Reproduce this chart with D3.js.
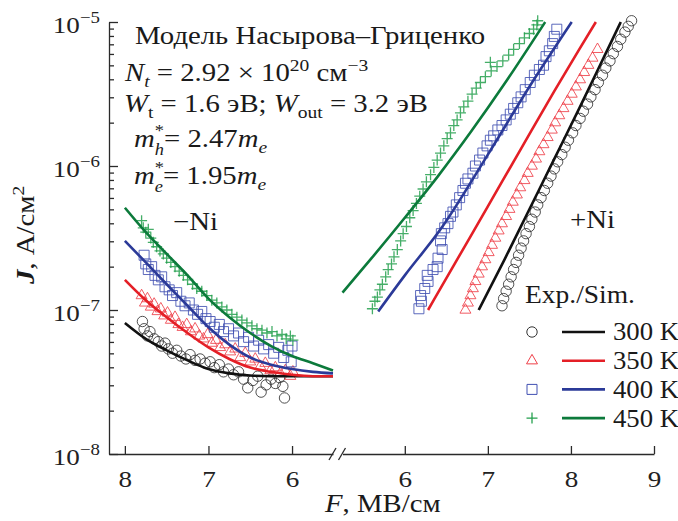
<!DOCTYPE html>
<html>
<head>
<meta charset="utf-8">
<script src="https://cdn.jsdelivr.net/npm/d3@7"></script>
<style>
body { margin: 0; background: #fff; }
svg text { font-family: "Liberation Serif", "Tinos", "DejaVu Serif", "Noto Serif", serif; }
</style>
</head>
<body>
<div id="chart"></div>
<script>
// ---- data: [F (MV/cm), J (A/cm^2)] ----
var tempLabels = ["300 K", "350 K", "400 K", "450 K"];
var yTickExps = [-8, -7, -6, -5];
var xTicksLeft = [8, 7, 6];
var xTicksRight = [6, 7, 8, 9];

// simulation, -Ni (left, reversed field axis)
var simLeft300 = [[8.0, 8.13e-8], [7.75, 6.31e-8], [7.5, 5.25e-8], [7.25, 4.47e-8], [7.0, 3.89e-8], [6.75, 3.63e-8], [6.5, 3.51e-8], [6.25, 3.47e-8], [6.0, 3.47e-8], [5.75, 3.47e-8], [5.51, 3.47e-8]];
var simLeft350 = [[8.0, 1.62e-7], [7.75, 1.17e-7], [7.5, 8.91e-8], [7.25, 6.92e-8], [7.0, 5.50e-8], [6.75, 4.57e-8], [6.5, 3.98e-8], [6.25, 3.72e-8], [6.0, 3.55e-8], [5.75, 3.47e-8], [5.51, 3.47e-8]];
var simLeft400 = [[8.0, 3.02e-7], [7.75, 2.14e-7], [7.5, 1.51e-7], [7.25, 1.07e-7], [7.0, 7.59e-8], [6.75, 5.75e-8], [6.5, 4.68e-8], [6.25, 4.17e-8], [6.0, 3.89e-8], [5.75, 3.72e-8], [5.51, 3.63e-8]];
var simLeft450 = [[8.0, 5.13e-7], [7.75, 3.47e-7], [7.5, 2.45e-7], [7.25, 1.74e-7], [7.0, 1.20e-7], [6.75, 8.91e-8], [6.5, 6.92e-8], [6.25, 5.62e-8], [6.0, 4.79e-8], [5.75, 4.27e-8], [5.51, 3.80e-8]];

// simulation, +Ni (right)
var simRight300 = [[6.89, 1.0e-7], [7.2, 2.24e-7], [7.5, 5.01e-7], [7.8, 1.12e-6], [8.1, 2.51e-6], [8.4, 5.75e-6], [8.60, 1.0e-5]];
var simRight350 = [[6.28, 1.0e-7], [6.6, 2.09e-7], [7.0, 5.25e-7], [7.4, 1.32e-6], [7.8, 3.31e-6], [8.1, 6.46e-6], [8.30, 1.0e-5]];
var simRight400 = [[5.68, 9.77e-8], [6.0, 1.74e-7], [6.43, 3.63e-7], [7.0, 1.20e-6], [7.5, 3.55e-6], [8.01, 1.0e-5]];
var simRight450 = [[5.25, 1.32e-7], [5.6, 2.29e-7], [6.0, 4.37e-7], [6.4, 8.51e-7], [6.8, 1.74e-6], [7.2, 3.72e-6], [7.69, 1.0e-5]];

// experiment, -Ni
var expLeft300 = [[7.79, 8.32e-8], [7.77, 7.41e-8], [7.73, 6.61e-8], [7.70, 7.08e-8], [7.65, 6.31e-8], [7.60, 6.03e-8], [7.56, 5.62e-8], [7.52, 5.89e-8], [7.48, 5.37e-8], [7.43, 5.01e-8], [7.38, 5.25e-8], [7.33, 4.79e-8], [7.27, 4.57e-8], [7.22, 4.90e-8], [7.16, 4.47e-8], [7.10, 4.57e-8], [7.04, 4.27e-8], [6.98, 4.37e-8], [6.93, 3.98e-8], [6.87, 4.17e-8], [6.82, 3.72e-8], [6.76, 3.89e-8], [6.70, 3.55e-8], [6.64, 3.72e-8], [6.58, 3.31e-8], [6.53, 2.88e-8], [6.47, 3.24e-8], [6.41, 3.47e-8], [6.37, 2.69e-8], [6.31, 3.02e-8], [6.25, 3.31e-8], [6.20, 3.09e-8], [6.15, 3.39e-8], [6.11, 2.95e-8], [6.09, 2.45e-8]];
var expLeft350 = [[7.80, 1.26e-7], [7.76, 1.12e-7], [7.73, 1.20e-7], [7.69, 1.05e-7], [7.65, 1.10e-7], [7.61, 9.77e-8], [7.57, 1.02e-7], [7.53, 9.12e-8], [7.49, 9.55e-8], [7.45, 8.51e-8], [7.40, 8.91e-8], [7.36, 7.94e-8], [7.31, 7.59e-8], [7.26, 7.94e-8], [7.21, 7.08e-8], [7.16, 7.41e-8], [7.11, 6.61e-8], [7.06, 6.31e-8], [7.01, 6.76e-8], [6.96, 5.89e-8], [6.91, 6.17e-8], [6.86, 5.50e-8], [6.80, 5.75e-8], [6.74, 5.13e-8], [6.68, 5.37e-8], [6.62, 4.68e-8], [6.56, 5.01e-8], [6.50, 4.37e-8], [6.44, 4.57e-8], [6.38, 4.07e-8], [6.32, 4.27e-8], [6.26, 3.80e-8], [6.20, 3.98e-8], [6.14, 3.63e-8], [6.08, 3.80e-8], [6.02, 3.47e-8], [5.99, 3.72e-8]];
var expLeft400 = [[7.77, 2.40e-7], [7.75, 2.09e-7], [7.72, 1.91e-7], [7.68, 2.00e-7], [7.64, 1.74e-7], [7.60, 1.62e-7], [7.56, 1.70e-7], [7.52, 1.45e-7], [7.47, 1.38e-7], [7.43, 1.26e-7], [7.38, 1.32e-7], [7.33, 1.15e-7], [7.28, 1.07e-7], [7.23, 1.12e-7], [7.18, 1.00e-7], [7.13, 9.33e-8], [7.08, 9.77e-8], [7.03, 8.71e-8], [6.98, 8.32e-8], [6.93, 7.59e-8], [6.87, 7.94e-8], [6.82, 7.08e-8], [6.76, 7.41e-8], [6.70, 6.61e-8], [6.64, 6.92e-8], [6.58, 6.03e-8], [6.52, 6.46e-8], [6.46, 5.62e-8], [6.40, 6.17e-8], [6.34, 5.37e-8], [6.28, 5.75e-8], [6.22, 5.01e-8], [6.16, 5.50e-8], [6.10, 4.68e-8], [6.05, 5.25e-8], [6.01, 4.37e-8], [6.00, 5.62e-8]];
var expLeft450 = [[7.80, 4.17e-7], [7.78, 3.72e-7], [7.75, 3.47e-7], [7.72, 3.63e-7], [7.69, 3.16e-7], [7.66, 2.95e-7], [7.62, 2.75e-7], [7.58, 2.57e-7], [7.54, 2.45e-7], [7.50, 2.29e-7], [7.45, 2.14e-7], [7.40, 2.00e-7], [7.35, 1.86e-7], [7.30, 1.74e-7], [7.25, 1.62e-7], [7.19, 1.51e-7], [7.14, 1.41e-7], [7.08, 1.35e-7], [7.02, 1.26e-7], [6.96, 1.17e-7], [6.90, 1.12e-7], [6.84, 1.05e-7], [6.78, 1.00e-7], [6.72, 9.33e-8], [6.66, 8.91e-8], [6.60, 8.51e-8], [6.54, 8.13e-8], [6.48, 7.76e-8], [6.42, 7.41e-8], [6.36, 7.24e-8], [6.30, 6.92e-8], [6.24, 7.08e-8], [6.18, 6.61e-8], [6.12, 6.76e-8], [6.07, 6.31e-8], [6.02, 6.61e-8], [5.99, 6.17e-8]];

// experiment, +Ni
var expRight300 = [[7.17, 1.07e-7], [7.19, 1.20e-7], [7.22, 1.35e-7], [7.25, 1.51e-7], [7.28, 1.70e-7], [7.31, 1.91e-7], [7.34, 2.14e-7], [7.37, 2.40e-7], [7.40, 2.69e-7], [7.43, 3.02e-7], [7.46, 3.39e-7], [7.50, 3.80e-7], [7.53, 4.27e-7], [7.57, 4.79e-7], [7.60, 5.37e-7], [7.64, 6.03e-7], [7.68, 6.76e-7], [7.72, 7.59e-7], [7.76, 8.51e-7], [7.80, 9.55e-7], [7.84, 1.07e-6], [7.89, 1.20e-6], [7.93, 1.35e-6], [7.97, 1.51e-6], [8.02, 1.70e-6], [8.06, 1.91e-6], [8.11, 2.14e-6], [8.15, 2.40e-6], [8.20, 2.69e-6], [8.24, 3.02e-6], [8.29, 3.39e-6], [8.33, 3.80e-6], [8.38, 4.27e-6], [8.42, 4.79e-6], [8.47, 5.37e-6], [8.51, 6.03e-6], [8.56, 6.76e-6], [8.60, 7.59e-6], [8.65, 8.51e-6], [8.69, 9.33e-6], [8.73, 1.02e-5]];
var expRight350 = [[6.73, 1.00e-7], [6.76, 1.12e-7], [6.79, 1.26e-7], [6.82, 1.41e-7], [6.85, 1.58e-7], [6.89, 1.78e-7], [6.93, 2.00e-7], [6.97, 2.24e-7], [7.01, 2.51e-7], [7.05, 2.82e-7], [7.09, 3.16e-7], [7.13, 3.55e-7], [7.17, 3.98e-7], [7.22, 4.47e-7], [7.26, 5.01e-7], [7.30, 5.62e-7], [7.35, 6.31e-7], [7.39, 7.08e-7], [7.44, 7.94e-7], [7.48, 8.91e-7], [7.53, 1.00e-6], [7.58, 1.12e-6], [7.62, 1.26e-6], [7.67, 1.41e-6], [7.72, 1.58e-6], [7.77, 1.78e-6], [7.81, 2.00e-6], [7.86, 2.24e-6], [7.91, 2.51e-6], [7.96, 2.82e-6], [8.01, 3.16e-6], [8.06, 3.55e-6], [8.11, 3.98e-6], [8.16, 4.47e-6], [8.21, 5.01e-6], [8.26, 5.62e-6], [8.32, 6.46e-6]];
var expRight400 = [[6.17, 1.02e-7], [6.20, 1.15e-7], [6.19, 1.26e-7], [6.24, 1.41e-7], [6.28, 1.58e-7], [6.27, 1.74e-7], [6.34, 1.91e-7], [6.39, 2.00e-7], [6.40, 2.29e-7], [6.45, 2.63e-7], [6.43, 3.02e-7], [6.44, 3.39e-7], [6.48, 3.72e-7], [6.52, 3.98e-7], [6.55, 4.47e-7], [6.58, 4.79e-7], [6.62, 5.37e-7], [6.66, 6.03e-7], [6.70, 6.76e-7], [6.73, 7.59e-7], [6.76, 8.13e-7], [6.82, 8.91e-7], [6.85, 1.00e-6], [6.90, 1.10e-6], [6.94, 1.23e-6], [6.99, 1.38e-6], [7.03, 1.51e-6], [7.07, 1.62e-6], [7.12, 1.78e-6], [7.17, 1.91e-6], [7.22, 2.09e-6], [7.27, 2.29e-6], [7.31, 2.51e-6], [7.36, 2.75e-6], [7.40, 3.02e-6], [7.45, 3.39e-6], [7.51, 3.80e-6], [7.56, 4.27e-6], [7.62, 4.68e-6], [7.67, 5.01e-6], [7.70, 5.75e-6], [7.74, 6.31e-6], [7.78, 7.08e-6], [7.80, 7.94e-6], [7.83, 8.91e-6]];
var expRight450 = [[5.61, 1.02e-7], [5.64, 1.15e-7], [5.67, 1.23e-7], [5.70, 1.38e-7], [5.73, 1.51e-7], [5.77, 1.70e-7], [5.80, 1.91e-7], [5.84, 2.09e-7], [5.87, 2.34e-7], [5.91, 2.63e-7], [5.95, 3.02e-7], [5.98, 3.39e-7], [6.02, 3.80e-7], [6.06, 4.37e-7], [6.10, 4.90e-7], [6.14, 5.50e-7], [6.18, 6.17e-7], [6.22, 6.92e-7], [6.26, 7.76e-7], [6.31, 8.71e-7], [6.35, 9.77e-7], [6.39, 1.10e-6], [6.43, 1.23e-6], [6.47, 1.38e-6], [6.51, 1.55e-6], [6.55, 1.70e-6], [6.59, 1.91e-6], [6.63, 2.09e-6], [6.67, 2.34e-6], [6.71, 2.57e-6], [6.76, 2.82e-6], [6.81, 3.16e-6], [6.86, 3.47e-6], [6.91, 3.80e-6], [6.97, 4.17e-6], [7.03, 5.25e-6], [7.04, 4.57e-6], [7.11, 4.90e-6], [7.18, 5.37e-6], [7.25, 5.89e-6], [7.31, 6.46e-6], [7.38, 7.08e-6], [7.44, 7.76e-6], [7.50, 8.32e-6], [7.55, 8.91e-6], [7.59, 9.55e-6], [7.60, 1.02e-5]];

var simLeft = [simLeft300, simLeft350, simLeft400, simLeft450];
var simRight = [simRight300, simRight350, simRight400, simRight450];
var expLeft = [expLeft300, expLeft350, expLeft400, expLeft450];
var expRight = [expRight300, expRight350, expRight400, expRight450];

// ---- drawing ----
var width = 678, height = 521;
var serif = "'Liberation Serif', 'Tinos', 'DejaVu Serif', 'Noto Serif', serif";
var lineColors = ["#111111", "#e41f26", "#2b3a98", "#0c7a3b"];
var markColors = ["#333333", "#ef4049", "#4150b2", "#25a04e"];
var sx = 1.15; // the original lettering is a little wider than Liberation Serif

var svg = d3.select("#chart").append("svg")
	.attr("width", width)
	.attr("height", height)
	.attr("font-family", serif);

var y = d3.scaleLog().domain([1e-8, 1e-5]).range([454, 22]);
var xL = d3.scaleLinear().domain([8.19, 5.51]).range([109, 333]);
var xR = d3.scaleLinear().domain([5.25, 9]).range([342.5, 654]);

// plus sign as a stroked symbol
var symbolCross = {
	draw: function(ctx, size) {
		var r = Math.sqrt(size) / 2;
		ctx.moveTo(-r, 0); ctx.lineTo(r, 0);
		ctx.moveTo(0, -r); ctx.lineTo(0, r);
	}
};
var symbolTypes = [d3.symbolCircle, d3.symbolTriangle, d3.symbolSquare, symbolCross];
var symbolSizes = [85, 52, 100, 121];

function markerPath(i) {
	return d3.symbol().type(symbolTypes[i]).size(symbolSizes[i])();
}

function drawAxes() {
	var axisColor = "#2a2a2a";
	// y axis: decades + minor ticks, all pointing inward
	var majors = yTickExps.map(function(e) { return Math.pow(10, e); });
	var minors = [];
	for (var e = -8; e < -5; e++)
		for (var k = 2; k <= 9; k++) minors.push(k * Math.pow(10, e));

	var gy = svg.append("g").attr("transform", "translate(109,0)");
	gy.call(d3.axisLeft(y).tickValues(majors).tickSizeInner(-9).tickSizeOuter(0).tickFormat(""));
	gy.append("g").call(d3.axisLeft(y).tickValues(minors).tickSizeInner(-5).tickSizeOuter(0).tickFormat(""))
		.select(".domain").remove();
	gy.selectAll("path, line").attr("stroke", axisColor).attr("stroke-width", 1.3);

	// decade labels 10^n
	yTickExps.forEach(function(e) {
		var t = svg.append("g")
			.attr("transform", "translate(100,0) scale(1.18,1)")
			.append("text")
			.attr("x", 0)
			.attr("y", y(Math.pow(10, e)) + 11)
			.attr("text-anchor", "end")
			.attr("font-size", 23)
			.attr("fill", "#222");
		t.append("tspan").text("10");
		t.append("tspan").attr("dy", -10).attr("font-size", 16).text("\u2212" + (-e));
	});

	// broken x axis
	var gl = svg.append("g").attr("transform", "translate(0,454)");
	gl.call(d3.axisBottom(xL).tickValues(xTicksLeft).tickFormat(d3.format("d"))
		.tickSizeInner(-8).tickSizeOuter(0).tickPadding(17));
	var gr = svg.append("g").attr("transform", "translate(0,454)");
	gr.call(d3.axisBottom(xR).tickValues(xTicksRight).tickFormat(d3.format("d"))
		.tickSizeInner(-8).tickSizeOuter(0).tickPadding(17));
	[gl, gr].forEach(function(g) {
		g.attr("font-family", serif);
		g.selectAll("path, line").attr("stroke", axisColor).attr("stroke-width", 1.3);
		g.selectAll("text")
			.attr("font-size", 23)
			.attr("transform", "scale(1.18,1)")
			.attr("fill", "#222");
	});

	// break marks
	[xL.range()[1], xR.range()[0]].forEach(function(bx) {
		svg.append("line")
			.attr("x1", bx - 4).attr("y1", 460)
			.attr("x2", bx + 3).attr("y2", 448)
			.attr("stroke", axisColor)
			.attr("stroke-width", 1.3);
	});
}

function drawSeries() {
	var gm = svg.append("g");
	function markers(sets, xs) {
		sets.forEach(function(pts, i) {
			gm.selectAll(null)
				.data(pts)
				.join("path")
				.attr("transform", function(d) { return "translate(" + xs(d[0]) + "," + y(d[1]) + ")"; })
				.attr("d", markerPath(i))
				.attr("fill", "none")
				.attr("stroke", markColors[i])
				.attr("stroke-opacity", 0.85)
				.attr("stroke-width", i == 3 ? 1.3 : 1);
		});
	}
	markers(expLeft, xL);
	markers(expRight, xR);

	var gl = svg.append("g");
	function lines(sets, xs) {
		var line = d3.line()
			.x(function(d) { return xs(d[0]); })
			.y(function(d) { return y(d[1]); })
			.curve(d3.curveMonotoneX);
		sets.forEach(function(pts, i) {
			var sorted = pts.slice().sort(function(a, b) { return xs(a[0]) - xs(b[0]); });
			gl.append("path")
				.attr("d", line(sorted))
				.attr("fill", "none")
				.attr("stroke", lineColors[i])
				.attr("stroke-width", 2.6);
		});
	}
	lines(simLeft, xL);
	lines(simRight, xR);
}

// text with italics, sub/superscripts; stack: put it under the previous piece
function richText(x, yb, parts, size, scaleX) {
	var k = scaleX || sx;
	var t = svg.append("g")
		.attr("transform", "translate(" + x + ",0) scale(" + k + ",1)")
		.append("text").attr("x", 0).attr("y", yb).attr("font-size", size).attr("fill", "#1a1a1a");
	var prev = null;
	parts.forEach(function(p) {
		var s = t.append("tspan")
			.attr("y", yb + (p.shift || 0))
			.attr("font-size", p.size || size)
			.text(p.t);
		if (p.it) s.attr("font-style", "italic");
		if (p.bold) s.attr("font-weight", "bold");
		if (p.stack && prev) s.attr("dx", -prev.node().getComputedTextLength());
		prev = s;
	});
	return t;
}

function drawText() {
	var fs = 25, ss = 17;
	richText(135, 44, [{ t: "Модель Насырова\u2013Гриценко" }], fs);
	richText(125, 81, [
		{ t: "N", it: true }, { t: "t", it: true, size: ss, shift: 6 },
		{ t: " = 2.92 \u00d7 10" }, { t: "20", size: ss, shift: -10 },
		{ t: " см" }, { t: "\u22123", size: ss, shift: -10 }
	], fs);
	richText(124, 112, [
		{ t: "W", it: true }, { t: "t", size: ss, shift: 6 },
		{ t: " = 1.6 эВ; " },
		{ t: "W", it: true }, { t: "out", size: ss, shift: 6 },
		{ t: " = 3.2 эВ" }
	], fs);
	richText(134, 147, [
		{ t: "m", it: true }, { t: "*", size: 16, shift: -11 }, { t: "h", it: true, size: 16, shift: 8, stack: true },
		{ t: "= 2.47" }, { t: "m", it: true }, { t: "e", it: true, size: ss, shift: 6 }
	], fs);
	richText(134, 184, [
		{ t: "m", it: true }, { t: "*", size: 16, shift: -11 }, { t: "e", it: true, size: 16, shift: 8, stack: true },
		{ t: "= 1.95" }, { t: "m", it: true }, { t: "e", it: true, size: ss, shift: 6 }
	], fs);

	richText(173, 230, [{ t: "\u2212Ni" }], fs);
	richText(570, 228, [{ t: "+Ni" }], fs);

	// axis titles
	richText(325, 512, [{ t: "F", it: true }, { t: ", МВ/см" }], fs);
	var yl = svg.append("g")
		.attr("transform", "translate(34,284) rotate(-90) scale(" + sx + ",1)")
		.append("text")
		.attr("font-size", fs)
		.attr("fill", "#1a1a1a");
	yl.append("tspan").attr("font-style", "italic").attr("font-weight", "bold").text("J");
	yl.append("tspan").text(", А/см");
	yl.append("tspan").attr("y", -10).attr("font-size", ss).text("2");
}

function drawLegend() {
	richText(525, 303, [{ t: "Exp./Sim." }], 25, 1.1);
	tempLabels.forEach(function(lab, i) {
		var ly = 332 + i * 28.7;
		svg.append("path")
			.attr("transform", "translate(532," + ly + ")")
			.attr("d", markerPath(i))
			.attr("fill", "none")
			.attr("stroke", markColors[i])
			.attr("stroke-width", i == 3 ? 1.3 : 1);
		svg.append("line")
			.attr("x1", 562).attr("x2", 605)
			.attr("y1", ly).attr("y2", ly)
			.attr("stroke", lineColors[i])
			.attr("stroke-width", 2.6);
		richText(613, ly + 8.5, [{ t: lab }], 25, 1.07);
	});
}

drawSeries();
drawAxes();
drawText();
drawLegend();
</script>
</body>
</html>
